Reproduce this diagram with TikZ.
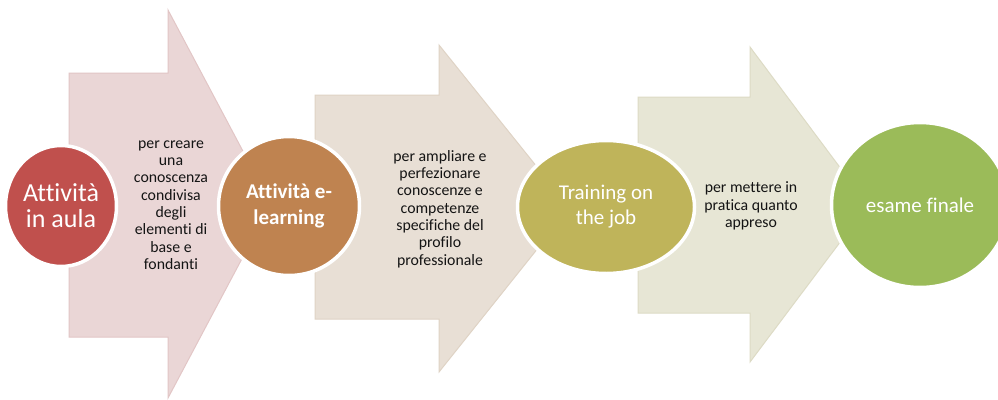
\documentclass[tikz,border=0pt]{standalone}
\usepackage{fontspec}
\setmainfont{Carlito}[Ligatures={NoCommon}]
\usetikzlibrary{shapes.geometric}
\definecolor{aone}{HTML}{EAD6D6}
\definecolor{aonel}{HTML}{E2C6C6}
\definecolor{atwo}{HTML}{E8DFD5}
\definecolor{atwol}{HTML}{DFD3C5}
\definecolor{athree}{HTML}{E7E6D5}
\definecolor{athreel}{HTML}{DDDBC5}
\definecolor{cone}{HTML}{C0504D}
\definecolor{ctwo}{HTML}{BF8350}
\definecolor{cthree}{HTML}{BFB45A}
\definecolor{cfour}{HTML}{9BBB59}
\definecolor{txt}{HTML}{141414}
\tikzset{
  bigarrow/.style={line width=1pt, line join=miter},
  disc/.style={ellipse, draw=white, line width=3.5pt, inner sep=0pt, text=white, align=center},
  arrowtext/.style={text=txt, align=center, inner sep=0pt, font=\fontsize{15.8}{17.3}\selectfont}
}
\begin{document}
\begin{tikzpicture}[x=1pt,y=-1pt]
\path[use as bounding box, fill=white] (0,0) rectangle (998,399);
% arrows
\draw[bigarrow, fill=aone, draw=aonel] (69,73) -- (168,73) -- (168,10) -- (271,204) -- (168,398) -- (168,337) -- (69,337) -- cycle;
\draw[bigarrow, fill=atwo, draw=atwol] (315,95) -- (439,95) -- (439,45) -- (570,208) -- (439,372) -- (439,319) -- (315,319) -- cycle;
\draw[bigarrow, fill=athree, draw=athreel] (638,97) -- (750,97) -- (750,47) -- (868,205) -- (750,362) -- (750,313) -- (638,313) -- cycle;
% arrow texts
\node[arrowtext] (t1) at (171,205) {per creare\\una\\conoscenza\\condivisa\\degli\\elementi di\\base e\\fondanti};
\node[arrowtext] (t2) at (440,209) {per ampliare e\\perfezionare\\conoscenze e\\competenze\\specifiche del\\profilo\\professionale};
\node[arrowtext] (t3) at (751,206) {per mettere in\\pratica quanto\\appreso};
% discs
\node[disc, fill=cone, minimum width=111pt, minimum height=121pt, font=\fontsize{26}{26}\selectfont] (c1) at (61,206) {Attività\\in aula};
\node[disc, fill=ctwo, minimum width=141pt, minimum height=139pt, font=\fontsize{21}{25.7}\selectfont\bfseries] (c2) at (289,206) {Attività e-\\learning};
\node[disc, fill=cthree, minimum width=177pt, minimum height=133pt, font=\fontsize{21}{25}\selectfont] (c3) at (606,207) {Training on\\the job};
\node[disc, fill=cfour, minimum width=177pt, minimum height=165pt, font=\fontsize{21}{25}\selectfont] (c4) at (920,205) {esame finale};
\end{tikzpicture}
\end{document}
